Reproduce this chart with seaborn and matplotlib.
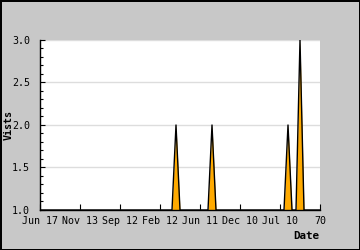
import matplotlib
matplotlib.use("Agg")
import matplotlib.pyplot as plt
import seaborn as sns
import numpy as np
import pandas as pd
from matplotlib.ticker import MultipleLocator

# ---- data ----
day_index = list(range(71))
visits = [1] * 71
peak_days = [34, 43, 62, 65]
peak_values = [2, 2, 2, 3]
for d, v in zip(peak_days, peak_values):
    visits[d] = v
tick_positions = [0, 10, 20, 30, 40, 50, 60, 70]
tick_labels = ["Jun 17", "Nov 13", "Sep 12", "Feb 12", "Jun 11", "Dec 10", "Jul 10", "70"]
y_label = "Vists"
x_label = "Date"

df = pd.DataFrame({"day": day_index, "visits": visits})

sns.set_theme(style="white")
plt.rcParams["font.family"] = ["DejaVu Sans Mono"]

fig = plt.figure(figsize=(3.6, 2.5), dpi=100)
fig.patch.set_facecolor("#c8c8c8")
fig.patch.set_edgecolor("black")
fig.patch.set_linewidth(1.0)
ax = fig.add_axes([40/360, 1 - 210/250, 280/360, 170/250])
ax.set_facecolor("white")

ax.fill_between(df["day"], 1, df["visits"], color="#ffaa00", linewidth=0, zorder=2)
sns.lineplot(data=df, x="day", y="visits", color="black", linewidth=1.0, ax=ax, zorder=3)

ax.set_xlim(0, 70)
ax.set_ylim(1.0, 3.0)
ax.yaxis.set_major_locator(MultipleLocator(0.5))
ax.yaxis.set_minor_locator(MultipleLocator(0.1))
ax.set_yticklabels([f"{v:.1f}" for v in ax.get_yticks()])
ax.set_xticks(tick_positions)
ax.set_xticklabels(tick_labels)
ax.grid(axis="y", which="major", color="#dddddd", linewidth=1, zorder=0)
ax.set_axisbelow(True)

for s in ["top", "right"]:
    ax.spines[s].set_visible(False)
for s in ["left", "bottom"]:
    ax.spines[s].set_color("black")
    ax.spines[s].set_linewidth(1)
    ax.spines[s].set_zorder(5)

ax.tick_params(axis="x", direction="in", length=4, width=0.8, color="black",
               labelsize=7.2, labelcolor="black", pad=4, bottom=True)
ax.tick_params(axis="y", which="major", direction="in", length=3.5, width=0.8,
               color="black", labelsize=7.2, labelcolor="black", pad=7, left=True)
ax.tick_params(axis="y", which="minor", direction="in", length=2.2, width=0.8,
               color="black", left=True)

ax.set_xlabel("")
ax.set_ylabel("")
fig.text(8.5/360, 1 - 125/250, y_label, rotation=90, ha="center", va="center",
         fontsize=7.2, fontweight="bold", color="black")
fig.text(319/360, 1 - 236/250, x_label, ha="right", va="center",
         fontsize=7.8, fontweight="bold", color="black")

fig.savefig("out.png", dpi=100, facecolor=fig.get_facecolor(), edgecolor="black")
